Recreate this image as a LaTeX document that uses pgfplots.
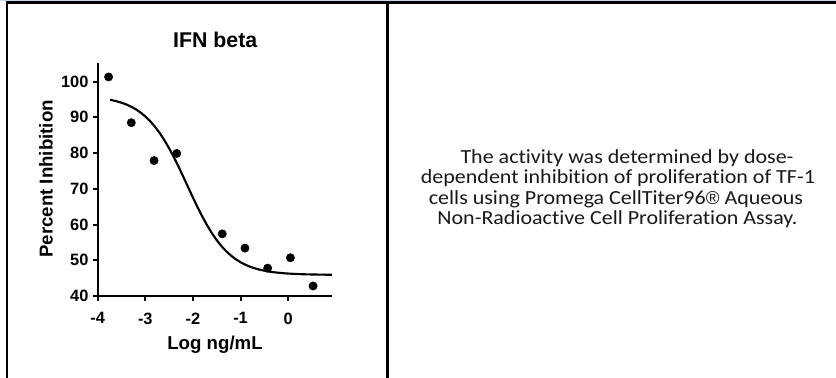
\documentclass[border=0pt]{standalone}
\usepackage{fontspec}
\setmainfont{Liberation Sans}
\newfontfamily\notefont[FakeStretch=1.10,Ligatures={NoCommon}]{Carlito}
\usepackage{pgfplots}
\pgfplotsset{compat=1.18}
\definecolor{topblue}{HTML}{C6D9F0}
\begin{document}
\begin{tikzpicture}[x=0.75pt,y=0.75pt]
\path[use as bounding box] (0,0) rectangle (836,378);
\fill[white] (0,0) rectangle (836,378);
\fill[topblue] (0,376.7) rectangle (836,378);
\draw[line width=1.9pt,black] (5.8,375.3) -- (836,375.3);
\draw[line width=1.75pt,black] (7.2,0) -- (7.2,376.5);
\draw[line width=2pt,black] (387.8,0) -- (387.8,376.5);
\begin{axis}[
  at={(73.275pt,61.5pt)}, anchor=south west,
  scale only axis, width=175.73pt, height=175pt,
  xmin=-4, xmax=0.92, ymin=40, ymax=105.3,
  axis x line=bottom, axis y line=left,
  axis line style={-, line width=1.5pt, black},
  tick align=outside, major tick length=3.4pt,
  tick style={line width=1.5pt, black},
  xtick={-4,-3,-2,-1,0}, xticklabels={-4,-3,-2,-1,0},
  ytick={40,50,60,70,80,90,100},
  minor tick num=0,
  tick label style={font=\bfseries\fontsize{12.3}{14}\selectfont},
  xticklabel style={yshift=-5.5pt},
  /pgf/number format/assume math mode=true,
]
\addplot[no marks, line width=1.6pt, black] coordinates {
(-3.74,94.92) (-3.6,94.49) (-3.5,94.09) (-3.4,93.60) (-3.3,92.99)
(-3.2,92.25) (-3.1,91.34) (-3.0,90.25) (-2.9,88.96) (-2.8,87.42)
(-2.7,85.65) (-2.6,83.61) (-2.5,81.33) (-2.4,78.82) (-2.3,76.13)
(-2.2,73.31) (-2.1,70.42) (-2.0,67.55) (-1.9,64.77) (-1.8,62.15)
(-1.7,59.73) (-1.6,57.54) (-1.5,55.61) (-1.4,53.93) (-1.3,52.50)
(-1.2,51.29) (-1.1,50.28) (-1.0,49.44) (-0.9,48.75) (-0.8,48.19)
(-0.7,47.74) (-0.6,47.37) (-0.5,47.08) (-0.4,46.84) (-0.3,46.65)
(-0.2,46.50) (-0.1,46.37) (0.0,46.28) (0.2,46.14) (0.4,46.05)
(0.6,46.00) (0.8,45.96) (0.92,45.95)
};
\addplot[only marks, mark=*, mark size=3.1pt, black] coordinates {
(-3.771,101.3) (-3.294,88.5) (-2.817,77.9) (-2.340,79.9)
(-1.385,57.4) (-0.908,53.4) (-0.431,47.8) (0.046,50.7) (0.523,42.8)
};
\end{axis}
\node[anchor=base, font=\bfseries\fontsize{16}{19}\selectfont] at (215.2,330.3) {IFN beta};
\node[anchor=base, font=\bfseries\fontsize{14}{17}\selectfont] at (215,28) {Log ng/mL};
\node[anchor=base, rotate=90, font=\bfseries\fontsize{14}{17}\selectfont] at (52.7,199) {Percent Inhibition};
\begin{scope}[every node/.style={anchor=base, inner sep=0pt, font=\notefont\fontsize{15}{18}\selectfont, text=black!90}]
\node at (627,214.5) {The activity was determined by dose-};
\node at (618,194) {dependent inhibition of proliferation of TF-1};
\node at (616,173.5) {cells using Promega CellTiter96{\normalfont\fontsize{14}{18}\selectfont ®} Aqueous};
\node at (617.5,153) {Non-Radioactive Cell Proliferation Assay.};
\end{scope}
\end{tikzpicture}
\end{document}
